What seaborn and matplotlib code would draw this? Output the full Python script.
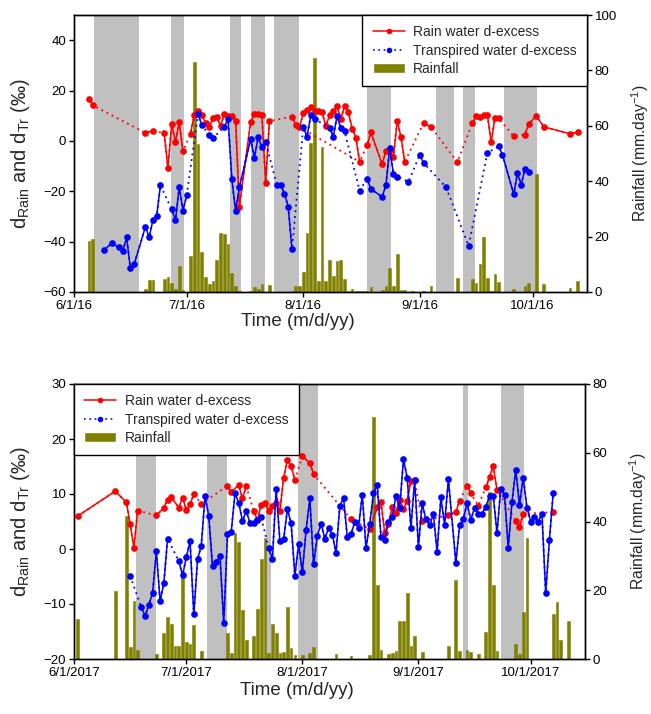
import numpy as np
import pandas as pd
import matplotlib
matplotlib.use('Agg')
import matplotlib.pyplot as plt
from matplotlib.lines import Line2D
from matplotlib.patches import Patch
import seaborn as sns

sns.set_style("ticks")
plt.rcParams['font.family'] = ['Liberation Sans', 'DejaVu Sans']
plt.rcParams['mathtext.fontset'] = 'custom'
plt.rcParams['mathtext.rm'] = 'Liberation Sans'
plt.rcParams['axes.edgecolor'] = 'black'
plt.rcParams['xtick.color'] = 'black'
plt.rcParams['ytick.color'] = 'black'

# ---------------- 2016 campaign (days after 6/1/2016) ----------------
red16_day = [4, 5, 19, 21, 24, 25, 26, 27, 28, 29, 31, 32, 33, 34, 35, 36, 37, 38, 39, 40,
             41, 42, 43, 44, 47, 48, 49, 50, 51, 52, 58, 59, 60, 61, 62, 63, 64, 65, 66, 67,
             68, 69, 70, 71, 72, 73, 74, 75, 76, 78, 79, 82, 83, 84, 85, 86, 87, 88, 93, 95,
             102, 106, 107, 108, 109, 110, 111, 112, 113, 117, 120, 121, 123, 125, 132, 134]
red16_val = [16.7, 14.1, 3.2, 4.0, 3.1, -10.9, 6.6, -0.3, 7.4, -4.2, 2.8, 10.4, 11.7, 10.1,
             7.0, 5.7, 8.9, 9.3, 6.1, 10.7, 10.0, 9.7, 7.9, -26.1, 7.4, 10.8, 10.7, 10.4,
             -16.6, 7.9, 9.6, 6.2, 5.5, 11.0, 12.1, 13.4, 11.8, 11.9, 11.3, 6.0, 10.1, 11.7,
             13.9, 8.7, 13.9, 11.4, 4.9, 1.3, -8.3, -1.7, 3.4, -9.3, -3.9, -3.5, -6.4, 8.0,
             1.6, -8.3, 7.0, 5.6, -8.5, 7.0, 9.7, 9.5, 10.3, 10.3, -0.5, 9.0, 9.0, 1.8, 2.5,
             6.7, 9.9, 5.6, 2.8, 3.5]
red16_runs = [2, 2, 6, 20, 19, 9, 2, 1, 8, 1, 6]
red16_link = [60, 76]

blue16_day = [8, 10, 12, 13, 14, 15, 16, 19, 20, 21, 22, 23, 26, 27, 28, 29, 30, 33, 34, 36,
              37, 40, 41, 42, 43, 44, 47, 48, 49, 50, 51, 54, 55, 56, 57, 58, 61, 62, 63, 64,
              68, 69, 70, 71, 72, 76, 78, 79, 82, 83, 84, 85, 86, 89, 92, 93, 99, 105, 110,
              113, 114, 117, 118, 119, 120, 121]
blue16_val = [-43.3, -40.7, -42.3, -43.7, -38.3, -50.6, -49.0, -34.1, -38.2, -31.5, -29.7,
              -17.6, -27.2, -31.4, -18.4, -27.7, -21.4, 10.6, 6.4, 2.3, 1.1, 5.7, 8.7, -15.2,
              -27.9, -18.4, 0.6, -6.6, 1.4, -2.5, -0.5, -17.6, -17.6, -20.9, -26.1, -43.1, 5.4,
              1.7, 10.1, 8.7, 5.2, 1.7, 9.9, 5.1, 3.8, -19.7, -15.0, -19.1, -22.2, -17.6, -2.9,
              -13.1, -14.2, -16.2, -5.6, -8.7, -18.4, -41.7, -4.7, -2.2, -5.4, -21.2, -12.8,
              -17.4, -11.1, -12.5]
blue16_runs = [12, 5, 2, 2, 10, 5, 4, 5, 1, 7, 1, 2, 1, 1, 1, 7]

rain16_day = [4, 5, 19, 20, 21, 24, 25, 26, 27, 28, 29, 31, 32, 33, 34, 35, 36, 37, 38, 39,
              40, 41, 42, 43, 44, 47, 48, 49, 50, 52, 58, 59, 60, 61, 62, 63, 64, 65, 66, 67,
              68, 69, 70, 71, 72, 73, 74, 75, 76, 77, 78, 79, 82, 83, 84, 85, 86, 87, 88, 90,
              93, 95, 102, 106, 107, 108, 109, 110, 111, 112, 113, 117, 120, 121, 123, 125,
              132, 134]
rain16_mm = [18.4, 19.2, 1.0, 4.2, 4.2, 4.8, 5.4, 3.4, 1.1, 9.5, 0.7, 13.0, 82.9, 53.5, 14.3,
             5.4, 3.0, 4.0, 11.6, 21.4, 20.8, 17.3, 6.7, 2.2, 0.5, 0.2, 1.9, 1.2, 2.9, 2.4,
             0.4, 2.3, 2.2, 7.1, 21.2, 53.9, 84.6, 3.9, 52.3, 4.0, 11.4, 5.9, 11.1, 11.4, 4.6,
             0.5, 1.1, 0.4, 0.5, 0.4, 0.4, 1.7, 0.7, 2.3, 8.8, 2.3, 13.7, 0.7, 0.7, 0.4, 0.4,
             2.3, 5.1, 4.7, 3.1, 10.0, 20.0, 5.2, 0.5, 6.6, 3.7, 1.0, 2.1, 3.4, 42.5, 2.8,
             1.3, 4.0]

shade16 = [(5.3, 17.4), (25.8, 29.3), (41.6, 44.5), (47.2, 50.9), (53.2, 59.8),
           (78.0, 84.3), (96.2, 101.0), (103.4, 106.6), (114.5, 123.3)]
ticks16 = ['6/1/16', '7/1/16', '8/1/16', '9/1/16', '10/1/16']

# ---------------- 2017 campaign (days after 6/1/2017) ----------------
red17_day = [1, 11, 14, 15, 16, 17, 22, 24, 25, 26, 28, 29, 30, 31, 32, 34, 41, 42, 44, 45,
             46, 48, 49, 50, 51, 52, 53, 54, 55, 56, 57, 58, 59, 61, 63, 64, 74, 79, 81, 82,
             83, 84, 85, 86, 87, 88, 89, 90, 91, 93, 100, 102, 103, 105, 106, 108, 110, 111,
             112, 113, 118, 119, 120, 128]
red17_val = [6.0, 10.5, 8.5, 4.5, 0.2, 7.0, 6.1, 7.5, 9.0, 9.4, 7.5, 9.3, 7.1, 8.1, 10.0,
             8.2, 11.5, 10.4, 11.6, 9.2, 11.4, 6.9, 5.3, 8.0, 8.3, 7.0, 7.8, 8.4, 6.9, 13.0,
             16.1, 15.1, 12.5, 16.9, 15.6, 13.6, 5.4, 3.6, 7.6, 8.6, 2.9, 4.5, 7.7, 6.6, 9.0,
             7.2, 8.8, 12.4, 12.5, 5.1, 6.1, 6.7, 8.8, 11.5, 10.1, 7.9, 11.2, 13.1, 15.1,
             10.7, 5.1, 4.0, 6.4, 6.7]
red17_runs = [6, 9, 1, 5, 12, 3, 1, 12, 1, 3, 2, 1, 4, 3, 1]

blue17_day = [15, 18, 19, 20, 21, 22, 23, 24, 25, 28, 29, 30, 31, 32, 33, 34, 35, 36, 37, 38,
              39, 40, 41, 42, 43, 44, 45, 46, 47, 48, 49, 50, 52, 53, 54, 55, 56, 57, 58, 59,
              60, 61, 62, 63, 64, 65, 66, 67, 68, 69, 70, 71, 72, 73, 74, 75, 76, 77, 78, 79,
              80, 81, 82, 83, 84, 85, 86, 87, 88, 89, 90, 91, 92, 93, 94, 95, 96, 97, 98, 99,
              100, 102, 103, 104, 105, 106, 107, 108, 109, 110, 111, 112, 113, 114, 115, 116,
              117, 118, 119, 120, 121, 122, 123, 124, 125, 126, 127, 128]
blue17_val = [-4.9, -10.6, -12.2, -10.1, -8.0, -0.4, -9.5, -6.2, 1.9,
              -2.2, -4.8, -1.5, 1.4, -11.9, -1.9, 0.6, 9.6, 6.0, -3.1, -2.4, -1.3, -13.5,
              2.7, 3.1, 10.1, 8.4, 5.1, 6.9, 4.8, 4.7, 5.3, 5.8,
              0.1, -1.8, 10.9, 1.4, 1.8, 7.2, 4.7, -4.9, 0.9, -4.2, 3.5, 9.2, -2.8, 2.4, 4.6,
              1.9, 3.8, 2.6, -0.7, 7.8, 9.3, 2.1, 2.7, 4.9, 3.8, 9.9, 0.2, 4.5, 10.2, 11.6,
              2.2, 1.7, 5.0, 5.9, 9.6, 7.4, 16.3, 13.0, 3.9, 12.5, 0.4, 8.3, 5.4, 4.4, 6.3,
              -0.5, 9.4, 4.4, 12.7,
              -2.5, 4.3, 5.5, 8.3, 5.3, 7.5, 6.3, 6.4, 7.7, 9.6, 9.6, 2.9, 11.0, 9.8, 0.2,
              8.6, 14.4, 8.0, 13.0, 7.4, 5.0, 5.9, 5.0, 6.4, -8.0, 1.7, 10.2]
blue17_runs = [1, 8, 23, 76]

rain17_day = [1, 11, 14, 15, 16, 17, 22, 24, 25, 26, 27, 28, 29, 30, 31, 32, 34, 41, 42, 43,
              44, 45, 46, 48, 49, 50, 51, 52, 53, 54, 55, 56, 57, 58, 59, 61, 63, 64, 70, 74,
              79, 80, 81, 82, 83, 84, 85, 86, 87, 88, 89, 90, 91, 93, 100, 102, 103, 105, 106,
              108, 110, 111, 112, 113, 118, 119, 120, 121, 128, 129, 130, 132]
rain17_mm = [11.6, 19.8, 41.6, 3.5, 16.9, 2.5, 1.4, 7.6, 12.3, 10.2, 3.8, 3.8, 24.2, 4.9,
             4.4, 9.9, 2.3, 7.6, 1.8, 36.7, 34.0, 14.3, 5.4, 6.6, 14.6, 29.1, 35.3, 1.8, 10.1,
             7.5, 1.7, 2.1, 15.0, 3.3, 1.1, 1.2, 1.8, 3.4, 1.4, 0.9, 1.1, 70.3, 21.4, 2.7,
             0.3, 1.5, 1.7, 2.4, 11.0, 11.1, 19.2, 3.7, 6.8, 2.1, 3.9, 23.0, 2.4, 2.7, 2.0,
             1.4, 7.9, 48.5, 21.4, 2.4, 4.5, 1.5, 13.6, 35.2, 13.0, 16.6, 5.4, 11.1]

shade17 = [(16.5, 21.8), (35.6, 40.8), (51.4, 52.5), (59.9, 65.1), (104.0, 105.3),
           (114.0, 120.2)]
ticks17 = ['6/1/2017', '7/1/2017', '8/1/2017', '9/1/2017', '10/1/2017']

RED, BLUE, OLIVE, GREY = '#ff0000', '#0000ff', '#808000', '#c0c0c0'
DOTS = (1, 2.2)


def to_df(start, days, vals, runs):
    t0 = pd.Timestamp(start)
    return pd.DataFrame({'date': t0 + pd.to_timedelta(days, unit='D'),
                         'val': vals,
                         'run': np.repeat(np.arange(len(runs)), runs)})


def draw_series(ax, df, color):
    # dotted line through every sample, solid line inside each sampling run
    sns.lineplot(data=df, x='date', y='val', color=color, lw=1.3, dashes=False,
                 estimator=None, sort=False, ax=ax).lines[-1].set_dashes(DOTS)
    sns.lineplot(data=df, x='date', y='val', units='run', color=color, lw=1.1,
                 marker='o', markersize=4.8, markeredgewidth=0,
                 estimator=None, sort=False, ax=ax)


def draw_panel(rect, year, red, blue, rain_day, rain_mm, shade, ticklabels,
               ylim, yticks, rlim, rticks, legend_loc, label_y, link=None):
    start = f'{year}-06-01'
    t0 = pd.Timestamp(start)
    ax2 = fig.add_axes(rect)            # rainfall axis (drawn underneath)
    ax = ax2.twinx()                    # d-excess axis on top
    ax.yaxis.tick_left()
    ax.yaxis.set_label_position('left')
    ax2.yaxis.tick_right()
    ax2.yaxis.set_label_position('right')
    ax.patch.set_visible(False)

    for a, b in shade:
        ax2.axvspan(t0 + pd.Timedelta(days=a), t0 + pd.Timedelta(days=b),
                    color=GREY, lw=0, zorder=0)
    rain_dates = t0 + pd.to_timedelta(rain_day, unit='D')
    ax2.bar(rain_dates, rain_mm, width=0.72, color=OLIVE, edgecolor=OLIVE,
            linewidth=0.4, zorder=1)

    dfr = to_df(start, *red)
    dfb = to_df(start, *blue)
    if link is not None:
        seg = dfr[dfr['date'].isin(t0 + pd.to_timedelta(link, unit='D'))]
        sns.lineplot(data=seg, x='date', y='val', color=RED, lw=1.3,
                     estimator=None, sort=False, ax=ax).lines[-1].set_dashes(DOTS)
    draw_series(ax, dfr, RED)
    draw_series(ax, dfb, BLUE)

    ax.set_xlim(t0, t0 + pd.Timedelta(days=136.5))
    ax.set_ylim(*ylim)
    ax.set_yticks(yticks)
    ax2.set_ylim(*rlim)
    ax2.set_yticks(rticks)
    months = [t0 + pd.DateOffset(months=m) for m in range(5)]
    ax2.set_xticks(months)
    ax2.set_xticklabels(ticklabels)
    ax.tick_params(axis='x', bottom=False, labelbottom=False)

    for a in (ax, ax2):
        a.tick_params(direction='out', length=3.5, width=1, labelsize=9.5, pad=2)
        for s in a.spines.values():
            s.set_linewidth(1.0)
            s.set_color('black')

    ax.set_xlabel('')
    ax.set_ylabel(r'd$_{\mathrm{Rain}}$ and d$_{\mathrm{Tr}}$ (‰)', fontsize=14.5)
    ax.yaxis.set_label_coords(-0.082, 0.5)
    ax2.set_ylabel(r'Rainfall (mm.day$^{-1}$)', fontsize=11.3)
    ax2.yaxis.set_label_coords(1.083, 0.5)
    ax2.set_xlabel('Time (m/d/yy)', fontsize=13.5)
    ax2.xaxis.set_label_coords(0.437, label_y)

    handles = [Line2D([], [], color=RED, lw=1.1, marker='o', markersize=4,
                      markeredgewidth=0, label='Rain water d-excess'),
               Line2D([], [], color=BLUE, lw=1.2, dashes=DOTS, marker='o', markersize=4,
                      markeredgewidth=0, label='Transpired water d-excess'),
               Patch(facecolor=OLIVE, label='Rainfall')]
    leg = ax.legend(handles=handles, loc=legend_loc, fontsize=10, frameon=True,
                    fancybox=False, framealpha=1, edgecolor='black',
                    borderaxespad=0, handlelength=2.3, labelspacing=0.3,
                    handletextpad=0.6, borderpad=0.75, handleheight=0.8)
    leg.get_frame().set_linewidth(1.0)
    leg.set_zorder(10)
    return ax, ax2


fig = plt.figure(figsize=(6.51, 7.14), dpi=100)

draw_panel([74 / 651, 1 - 292 / 714, 513 / 651, 277 / 714], 2016,
           (red16_day, red16_val, red16_runs), (blue16_day, blue16_val, blue16_runs),
           rain16_day, rain16_mm, shade16, ticks16,
           (-60, 50), [-60, -40, -20, 0, 20, 40], (0, 100), [0, 20, 40, 60, 80, 100],
           'upper right', -0.076, link=red16_link)

draw_panel([74 / 651, 1 - 659 / 714, 511 / 651, 275 / 714], 2017,
           (red17_day, red17_val, red17_runs), (blue17_day, blue17_val, blue17_runs),
           rain17_day, rain17_mm, shade17, ticks17,
           (-20, 30), [-20, -10, 0, 10, 20, 30], (0, 80), [0, 20, 40, 60, 80],
           'upper left', -0.084)

fig.savefig('out.png', dpi=100)
